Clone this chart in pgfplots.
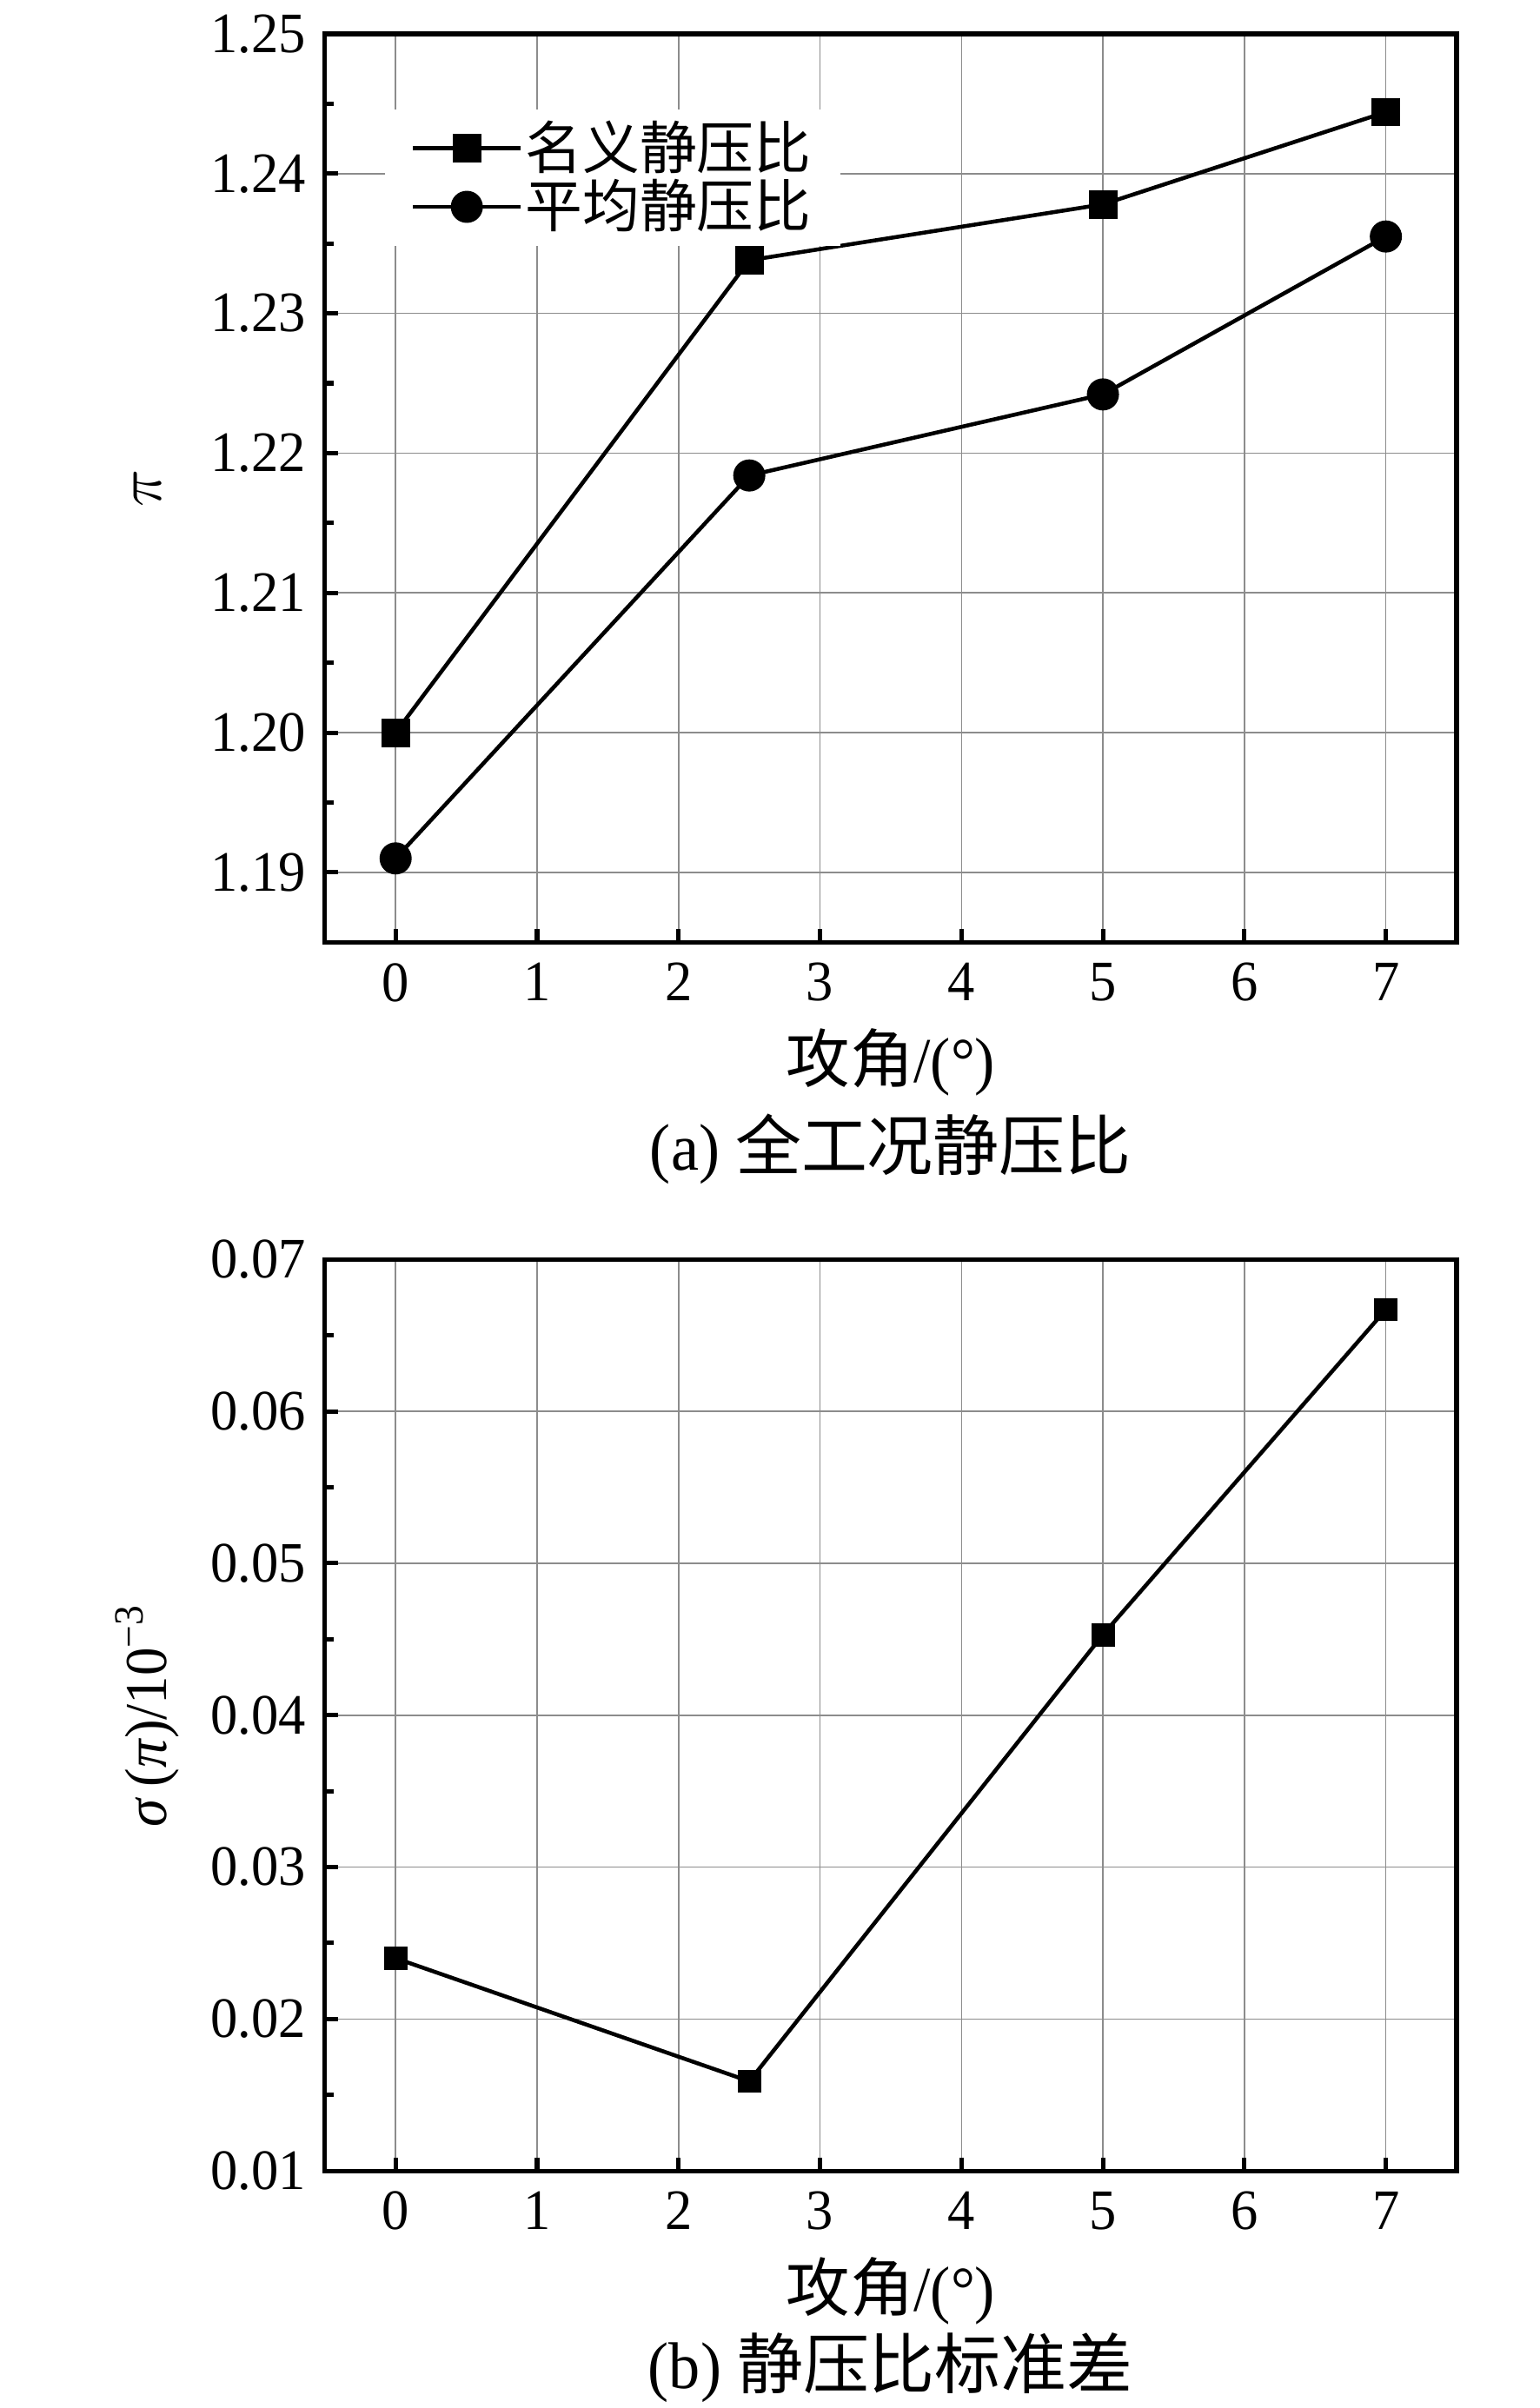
\documentclass[border=0pt]{standalone}
\usepackage{fontspec}
\setmainfont{Liberation Serif}[FakeStretch=0.95]
\newfontfamily\cjk{Noto Sans CJK SC}
\usepackage{pgfplots}
\pgfplotsset{compat=1.18}
\pgfplotsset{
  mystyle/.style={
    scale only axis, width=257.25pt,
    xmin=-0.5, xmax=7.5, xtick={0,1,2,3,4,5,6,7},
    tick align=inside, xtick pos=bottom, ytick pos=left,
    major tick length=3pt, minor tick length=2pt,
    every tick/.style={black, line width=1pt},
    axis line style={line width=1.05pt},
    grid=major, major grid style={black!45, line width=0.3pt},
    minor y tick num=1,
    scaled y ticks=false,
    tick label style={font=\fontsize{13}{15}\selectfont},
    x tick label style={yshift=-1.2pt},
    /pgf/number format/assume math mode=true,
    y tick label style={xshift=-0.8pt, /pgf/number format/.cd, fixed, fixed zerofill, precision=2, /tikz/.cd},
    xlabel style={at={(axis description cs:0.5,0)}, anchor=center, yshift=-27.3pt, font=\fontsize{14.5}{17}\selectfont},
    ylabel style={anchor=center, font=\fontsize{13.5}{16}\selectfont},
  }
}
\begin{document}
\begin{tikzpicture}
\begin{axis}[mystyle, height=206.5pt,
  at={(0,0)}, anchor=south west,
  ymin=1.185, ymax=1.25, ytick={1.19,1.20,1.21,1.22,1.23,1.24,1.25},
  xlabel={{\cjk 攻角}/(°)},
  ylabel={$\pi$},
  ylabel style={at={(axis description cs:-0.157,0.5)}},
  legend style={at={(axis description cs:0.052,0.918)}, anchor=north west, draw=none, fill=white, inner xsep=6pt, inner ysep=2pt, nodes={inner sep=0.6pt}, font=\cjk\fontsize{13}{15}\selectfont, row sep=-0.3pt},
  legend cell align=left,
  legend image code/.code={\draw[mark repeat=2,mark phase=2,#1] plot coordinates {(0cm,0cm) (0.43cm,0cm) (0.86cm,0cm)};},
]
\addplot[black, line width=0.9pt, mark=square*, mark size=2.8pt, mark options={solid}] coordinates {
  (0,1.2000) (2.5,1.2338) (5,1.2378) (7,1.2444)
};
\addlegendentry{名义静压比}
\addplot[black, line width=0.9pt, mark=*, mark size=3.2pt, mark options={solid}] coordinates {
  (0,1.1910) (2.5,1.2184) (5,1.2242) (7,1.2355)
};
\addlegendentry{平均静压比}
\end{axis}
\node[font=\fontsize{15}{18}\selectfont] at (128.6pt,-47pt) {(a) {\cjk 全工况静压比}};
\begin{axis}[mystyle, height=207.2pt,
  at={(0,-279.3pt)}, anchor=south west,
  ymin=0.01, ymax=0.07, ytick={0.01,0.02,0.03,0.04,0.05,0.06,0.07},
  xlabel={{\cjk 攻角}/(°)},
  ylabel={\textit{σ}\,(\textit{π})/10\textsuperscript{−3}},
  ylabel style={at={(axis description cs:-0.157,0.5)}},
]
\addplot[black, line width=0.9pt, mark=square*, mark size=2.2pt, mark options={solid}] coordinates {
  (0,0.0240) (2.5,0.0159) (5,0.0453) (7,0.0667)
};
\end{axis}
\node[font=\fontsize{15}{18}\selectfont] at (128.6pt,-324pt) {(b) {\cjk 静压比标准差}};
\pgfresetboundingbox
\path (-73.85pt,214.2pt) rectangle (276.15pt,-333.2pt);
\end{tikzpicture}
\end{document}
